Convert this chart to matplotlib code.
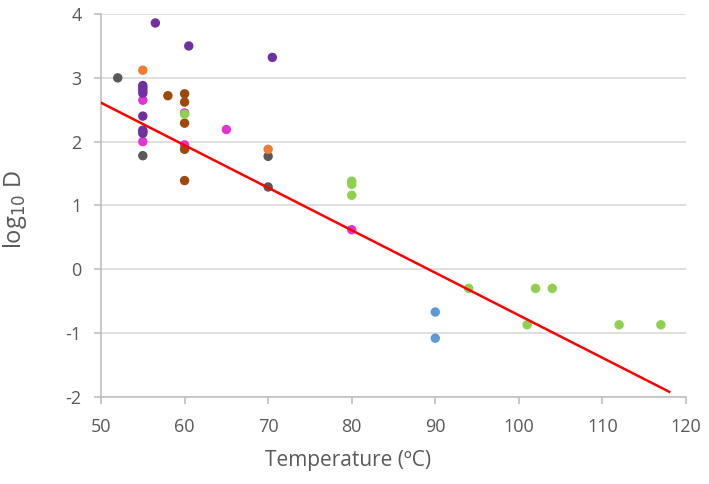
import matplotlib
matplotlib.use("Agg")
import matplotlib.pyplot as plt

plt.rcParams["font.family"] = ["Open Sans", "DejaVu Sans"]
plt.rcParams["axes.unicode_minus"] = False

# temperature (C) and log10 D, grouped by series colour
purple_x = [56.5, 60.5, 70.5, 55, 55, 55, 55, 55, 55, 55, 55]
purple_y = [3.86, 3.50, 3.32, 2.88, 2.84, 2.80, 2.76, 2.40, 2.18, 2.13, 2.16]
grey_x = [52, 55, 70, 70]
grey_y = [3.0, 1.78, 1.77, 1.29]
orange_x = [55, 70]
orange_y = [3.12, 1.88]
magenta_x = [55, 55, 60, 60, 65, 80]
magenta_y = [2.65, 2.0, 2.45, 1.95, 2.19, 0.62]
brown_x = [58, 60, 60, 60, 60, 60]
brown_y = [2.72, 2.75, 2.62, 2.29, 1.88, 1.39]
green_x = [60, 80, 80, 80, 94, 102, 104, 101, 112, 117]
green_y = [2.43, 1.38, 1.33, 1.16, -0.30, -0.30, -0.30, -0.87, -0.87, -0.87]
blue_x = [90, 90]
blue_y = [-0.67, -1.08]

# trend line end points
trend_x = [50, 118]
trend_y = [2.61, -1.92]

series = [
    (magenta_x, magenta_y, "#E234D6"),
    (purple_x, purple_y, "#7030A0"),
    (grey_x, grey_y, "#595959"),
    (orange_x, orange_y, "#ED7D31"),
    (brown_x, brown_y, "#9E480E"),
    (green_x, green_y, "#8FD14F"),
    (blue_x, blue_y, "#5B9BD5"),
]

fig = plt.figure(figsize=(7.09, 4.84), dpi=100)
ax = fig.add_axes([0.1425, 0.18, 0.825, 0.791])

for xs, ys, c in series:
    ax.scatter(xs, ys, s=46, color=c, edgecolors="none", zorder=3)

ax.plot(trend_x, trend_y, color="#FF0000", lw=1.8, zorder=4)

ax.set_xlim(50, 120)
ax.set_ylim(-2, 4)
ax.set_xticks(range(50, 121, 10))
ax.set_yticks(range(-2, 5))
ax.grid(axis="y", color="#D9D9D9", lw=1.2, zorder=0)
ax.set_axisbelow(True)
for s in ["top", "right"]:
    ax.spines[s].set_visible(False)
for s in ["left", "bottom"]:
    ax.spines[s].set_color("#BFBFBF")
    ax.spines[s].set_linewidth(1.2)
ax.tick_params(colors="#BFBFBF", labelcolor="#595959", labelsize=13,
               length=5, width=1.2)
ax.tick_params(axis="x", pad=10)
ax.tick_params(axis="y", pad=9)

ax.set_xlabel("Temperature (ºC)", fontsize=15, color="#595959")
ax.set_ylabel(r"log$_{10}$ D", fontsize=17, color="#595959", va="center")
ax.xaxis.set_label_coords(0.422, -0.14)
ax.yaxis.set_label_coords(-0.147, 0.49)

fig.savefig("out.png", dpi=100)
plt.close()
